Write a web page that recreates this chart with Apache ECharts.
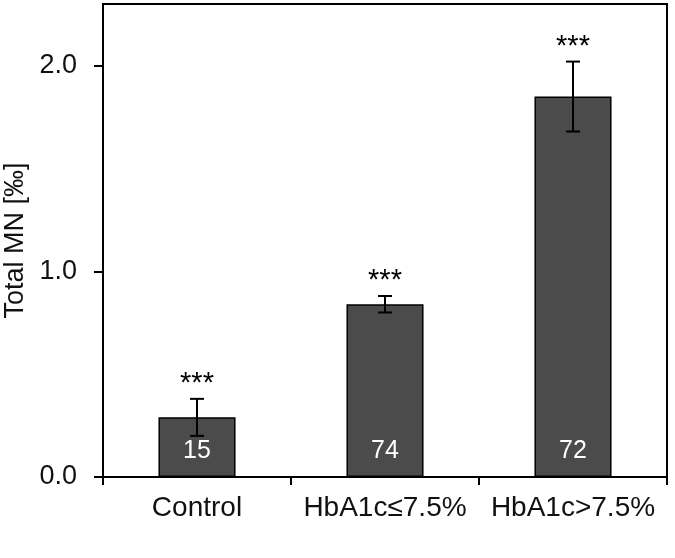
<!DOCTYPE html>
<html>
<head>
<meta charset="utf-8">
<script src="https://cdn.jsdelivr.net/npm/echarts@6/dist/echarts.min.js"></script>
<style>
  html, body { margin: 0; padding: 0; background: #fff; }
  #chart { width: 675px; height: 558px; }
</style>
</head>
<body>
<div id="chart"></div>
<script>
  // groups and values
  var groups = ['Control', 'HbA1c≤7.5%', 'HbA1c>7.5%']
  var meanMN = [0.29, 0.84, 1.85]
  var errMN = [0.09, 0.04, 0.17]
  var nCount = [15, 74, 72]
  var signif = ['***', '***', '***']
  var yTicks = [0, 1, 2]

  var font = 'Liberation Sans, Arial, sans-serif'
  var chart = echarts.init(document.getElementById('chart'))

  var errData = groups.map(function (g, i) {
    return [i, meanMN[i] - errMN[i], meanMN[i] + errMN[i]]
  })

  var option = {
    backgroundColor: '#fff',
    animation: false,
    grid: {
      left: 103, right: 8, top: 4, bottom: 81,
      outerBoundsMode: 'none',
      containLabel: false,
      show: true, borderColor: '#000', borderWidth: 2
    },
    xAxis: {
      type: 'category',
      data: groups,
      axisLine: { lineStyle: { color: '#000', width: 2 } },
      axisTick: { show: true, length: 8, lineStyle: { color: '#000', width: 2 } },
      axisLabel: {
        color: '#111', fontSize: 28, fontFamily: font, margin: 17,
        interval: 0, hideOverlap: false
      }
    },
    yAxis: {
      type: 'value',
      min: 0, max: 2.3, interval: 1,
      name: 'Total MN [‰]',
      nameLocation: 'middle',
      nameGap: 71,
      nameTextStyle: { color: '#111', fontSize: 27, fontFamily: font },
      splitLine: { show: false },
      axisLine: { show: true, lineStyle: { color: '#000', width: 2 } },
      axisTick: { show: true, length: 9, customValues: yTicks, lineStyle: { color: '#000', width: 2 } },
      axisLabel: {
        color: '#111', fontSize: 27, fontFamily: font, margin: 26,
        customValues: yTicks,
        formatter: function (v) { return v.toFixed(1) }
      }
    },
    series: [
      {
        type: 'bar',
        data: meanMN,
        barWidth: '41%',
        itemStyle: { color: '#4b4b4b', borderColor: '#000', borderWidth: 1.5 },
        label: {
          show: true,
          position: 'insideBottom',
          distance: 13,
          color: '#fff',
          fontSize: 25,
          lineHeight: 25,
          fontFamily: font,
          formatter: function (p) { return String(nCount[p.dataIndex]) }
        }
      },
      {
        type: 'custom',
        data: errData,
        z: 10,
        renderItem: function (params, api) {
          var x = api.value(0)
          var lo = api.coord([x, api.value(1)])
          var hi = api.coord([x, api.value(2)])
          var cap = 7
          var st = { stroke: '#000', lineWidth: 2 }
          return {
            type: 'group',
            children: [
              { type: 'line', shape: { x1: hi[0], y1: hi[1], x2: lo[0], y2: lo[1] }, style: st },
              { type: 'line', shape: { x1: hi[0] - cap, y1: hi[1], x2: hi[0] + cap, y2: hi[1] }, style: st },
              { type: 'line', shape: { x1: lo[0] - cap, y1: lo[1], x2: lo[0] + cap, y2: lo[1] }, style: st },
              {
                type: 'text',
                x: hi[0], y: hi[1] - 15,
                style: {
                  text: signif[params.dataIndex],
                  fill: '#000', fontSize: 29, fontFamily: font,
                  align: 'center', verticalAlign: 'middle'
                }
              }
            ]
          }
        }
      }
    ]
  }
  chart.setOption(option)
  window.addEventListener('resize', function () {
    chart.resize()
  })
</script>
</body>
</html>
